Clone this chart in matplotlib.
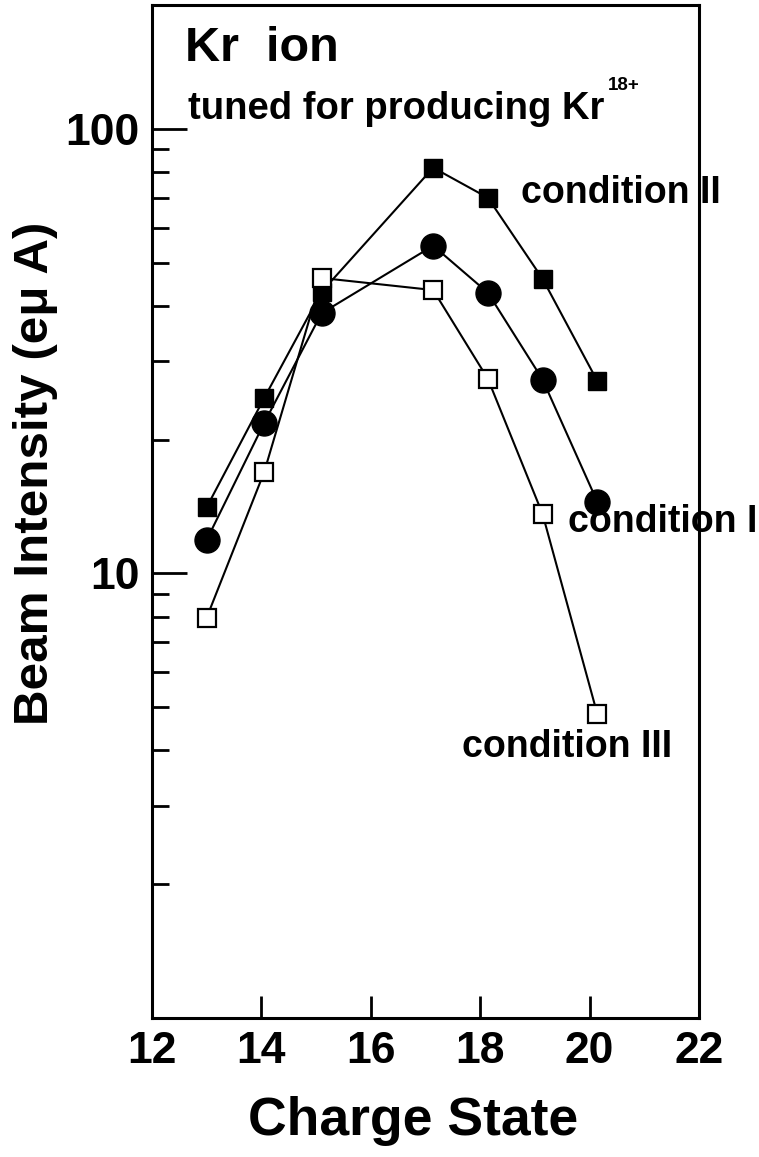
import numpy as np
import matplotlib.pyplot as plt
from matplotlib.ticker import LogLocator, NullFormatter, FixedLocator

plt.rcParams['font.family'] = ['Liberation Sans', 'DejaVu Sans']
plt.rcParams['font.weight'] = 'bold'

# charge states (as placed on the chart) and beam intensities (e uA)
charge = [13.0, 14.05, 15.1, 17.14, 18.14, 19.14, 20.14]
cond1 = [11.9, 21.8, 38.5, 54.6, 42.8, 27.3, 14.5]
cond2 = [14.1, 24.8, 43.0, 81.8, 70.0, 46.0, 27.1]
cond3 = [7.96, 16.9, 46.2, 43.4, 27.4, 13.6, 4.83]

fig = plt.figure(figsize=(7.59, 11.57), dpi=100)
ax = fig.add_axes([0.2003, 0.1201, 0.7207, 0.8756])

ax.plot(charge, cond2, '-s', color='black', lw=1.5, ms=13.5, mfc='black', mec='black')
ax.plot(charge, cond1, '-o', color='black', lw=1.5, ms=18, mfc='black', mec='black')
ax.plot(charge, cond3, '-s', color='black', lw=1.5, ms=12.5, mfc='white', mec='black', mew=1.6)

ax.set_yscale('log')
ax.set_xlim(12, 22)
ax.set_ylim(1, 190)

ax.xaxis.set_major_locator(FixedLocator([12, 14, 16, 18, 20, 22]))
ax.yaxis.set_major_locator(FixedLocator([10, 100]))
ax.yaxis.set_minor_locator(LogLocator(base=10, subs=np.arange(2, 10)))
ax.yaxis.set_minor_formatter(NullFormatter())
ax.set_yticklabels(['10', '100'])

ax.tick_params(axis='x', which='major', direction='in', length=16, width=2,
               labelsize=32, pad=9, top=False)
ax.tick_params(axis='x', which='minor', bottom=False, top=False)
ax.tick_params(axis='y', which='major', direction='in', length=25, width=2,
               labelsize=32, pad=9, right=False)
ax.tick_params(axis='y', which='minor', direction='in', length=12.5, width=2, right=False)
for lab in ax.get_xticklabels() + ax.get_yticklabels():
    lab.set_fontweight('bold')
for sp in ax.spines.values():
    sp.set_linewidth(2.2)

ax.set_xlabel('Charge State', fontsize=38.5, fontweight='bold')
ax.xaxis.set_label_coords(0.477, -0.077)
ax.set_ylabel('Beam Intensity (eμ A)', fontsize=35.6, fontweight='bold')
ax.yaxis.set_label_coords(-0.172, 0.538)

ax.text(0.06, 0.945, 'Kr  ion', transform=ax.transAxes, fontsize=35, fontweight='bold')
ax.text(0.065, 0.887, 'tuned for producing Kr', transform=ax.transAxes,
        fontsize=27.5, fontweight='bold')
ax.text(0.834, 0.916, '18+', transform=ax.transAxes, fontsize=13.5, fontweight='bold')
ax.text(0.675, 0.805, 'condition II', transform=ax.transAxes, fontsize=27,
        fontweight='bold', clip_on=False)
ax.text(0.76, 0.48, 'condition I', transform=ax.transAxes, fontsize=27,
        fontweight='bold', clip_on=False)
ax.text(0.567, 0.258, 'condition III', transform=ax.transAxes, fontsize=27,
        fontweight='bold', clip_on=False)

fig.savefig('out.png', dpi=100)
